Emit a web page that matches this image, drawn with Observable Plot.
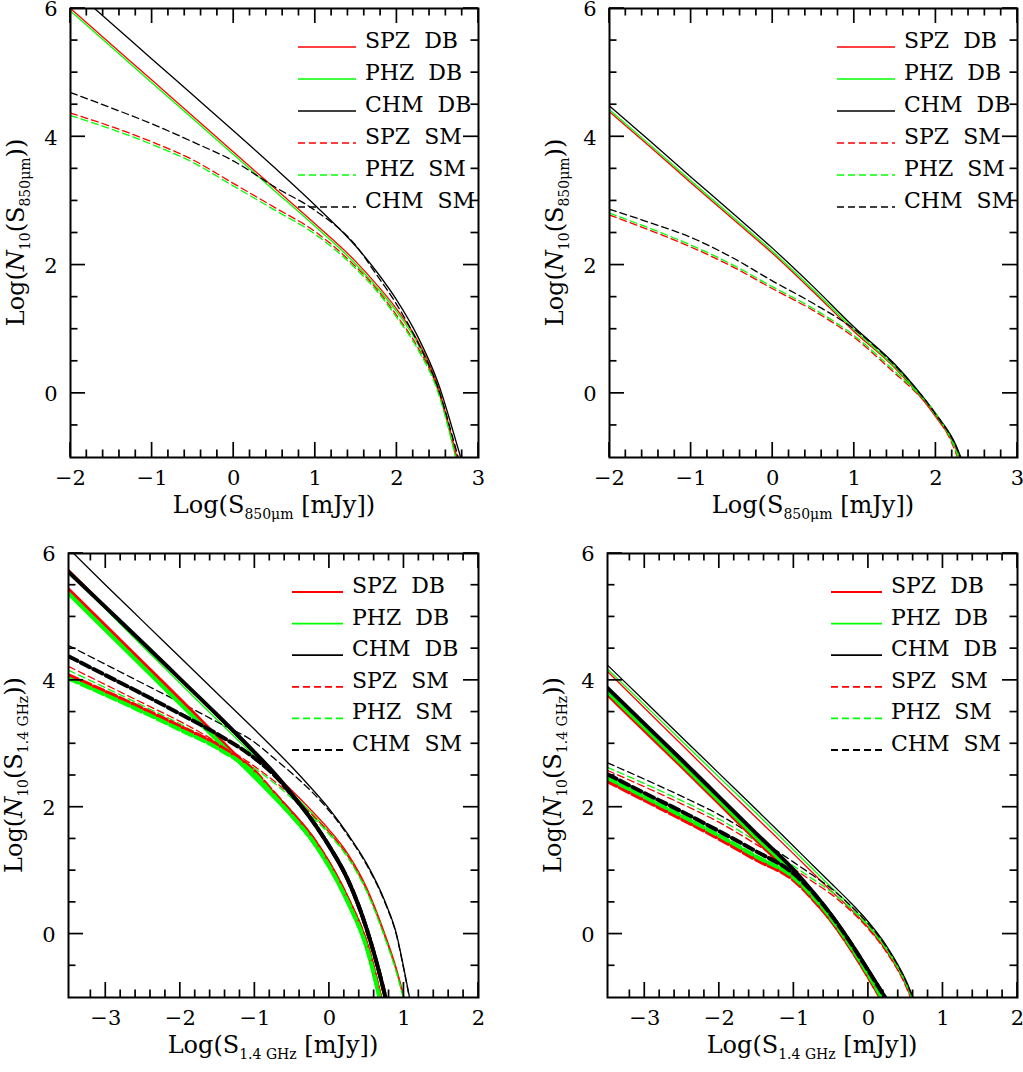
<!DOCTYPE html>
<html>
<head>
<meta charset="utf-8">
<script src="https://cdn.jsdelivr.net/npm/d3@7"></script>
<script src="https://cdn.jsdelivr.net/npm/@observablehq/plot@0.6"></script>
<style>
  body { margin: 0; background: #fff; }
  #fig { position: relative; width: 1023px; height: 1072px; font-family: "DejaVu Serif", serif; }
  .panel { position: absolute; }
</style>
</head>
<body>
<div id="fig"></div>
<script>
// ---- data: log N vs log S ----
// top left: 850um
const xsA = [-2, -1.5, -1, -0.5, 0, 0.5, 1, 1.5, 1.75, 2, 2.25, 2.5, 2.75, 2.85];
const aSpzDB = [6.00, 5.44, 4.88, 4.32, 3.76, 3.20, 2.64, 2.05, 1.70, 1.31, 0.83, 0.12, -1.08];
const aPhzDB = [5.96, 5.40, 4.84, 4.28, 3.72, 3.16, 2.60, 2.01, 1.66, 1.27, 0.79, 0.07, -1.15];
const aChmDB = [6.33, 5.77, 5.21, 4.65, 4.09, 3.52, 2.93, 2.29, 1.90, 1.45, 0.90, 0.18, -0.86, -1.30];
const aSpzSM = [4.37, 4.16, 3.92, 3.64, 3.27, 2.90, 2.52, 1.97, 1.63, 1.21, 0.73, 0.07, -1.10];
const aPhzSM = [4.33, 4.12, 3.88, 3.60, 3.23, 2.86, 2.48, 1.94, 1.60, 1.18, 0.70, 0.03, -1.15];
const aChmSM = [4.69, 4.45, 4.20, 3.92, 3.62, 3.22, 2.85, 2.30, 1.85, 1.38, 0.81, 0.10, -0.99, -1.45];

// top right: 850um
const xsB = [-2, -1.5, -1, -0.5, 0, 0.5, 1, 1.5, 1.75, 2, 2.25, 2.35];
const bSpzDB = [4.39, 3.84, 3.28, 2.73, 2.18, 1.58, 0.96, 0.39, 0.04, -0.37, -0.87, -1.20];
const bPhzDB = [4.42, 3.87, 3.31, 2.76, 2.21, 1.61, 0.99, 0.41, 0.06, -0.35, -0.85, -1.18];
const bChmDB = [4.48, 3.93, 3.37, 2.82, 2.26, 1.66, 1.03, 0.45, 0.09, -0.32, -0.82, -1.15];
const bSpzSM = [2.78, 2.54, 2.28, 1.98, 1.63, 1.29, 0.87, 0.31, 0.02, -0.34, -0.95, -1.35];
const bPhzSM = [2.81, 2.57, 2.31, 2.01, 1.66, 1.32, 0.90, 0.34, 0.04, -0.32, -0.92, -1.32];
const bChmSM = [2.87, 2.66, 2.43, 2.12, 1.75, 1.40, 1.00, 0.43, 0.08, -0.33, -0.84, -1.17];

// bottom left: 1.4 GHz, thin and thick sets
const xsC = [-3.5, -3, -2.5, -2, -1.5, -1, -0.75, -0.5, -0.25, 0, 0.25, 0.5, 0.75, 0.9, 1.0, 1.1];
const cSpzDB = [5.75, 5.17, 4.58, 4.00, 3.42, 2.84, 2.55, 2.26, 1.96, 1.64, 1.26, 0.73, -0.02, -0.55, -0.99, -1.50];
const cPhzDB = [5.70, 5.12, 4.53, 3.95, 3.37, 2.80, 2.51, 2.22, 1.92, 1.60, 1.22, 0.69, -0.06, -0.59, -1.04, -1.55];
const cChmDB = [6.08, 5.50, 4.93, 4.36, 3.79, 3.22, 2.93, 2.63, 2.31, 1.97, 1.57, 1.11, 0.50, 0.00, -0.55, -1.15];
const cSpzSM = [4.22, 3.93, 3.64, 3.35, 3.02, 2.64, 2.42, 2.17, 1.90, 1.60, 1.23, 0.70, -0.05, -0.58, -1.02, -1.52];
const cPhzSM = [4.16, 3.88, 3.60, 3.31, 2.98, 2.61, 2.39, 2.14, 1.87, 1.57, 1.20, 0.67, -0.08, -0.61, -1.05, -1.55];
const cChmSM = [4.55, 4.25, 3.95, 3.65, 3.34, 3.02, 2.78, 2.53, 2.26, 1.94, 1.55, 1.09, 0.48, -0.02, -0.57, -1.17];
const cSpzDBk = [5.43, 4.85, 4.27, 3.69, 3.10, 2.51, 2.21, 1.90, 1.55, 1.10, 0.54, -0.17, -1.35];
const cPhzDBk = [5.37, 4.79, 4.21, 3.63, 3.05, 2.47, 2.17, 1.86, 1.51, 1.06, 0.50, -0.21, -1.40];
const cChmDBk = [5.71, 5.15, 4.59, 4.02, 3.45, 2.86, 2.55, 2.20, 1.82, 1.38, 0.85, 0.08, -0.99, -1.80];
const cSpzSMk = [4.08, 3.82, 3.55, 3.27, 2.98, 2.56, 2.23, 1.90, 1.55, 1.10, 0.54, -0.17, -1.35];
const cPhzSMk = [4.03, 3.77, 3.50, 3.22, 2.93, 2.52, 2.19, 1.86, 1.51, 1.06, 0.50, -0.21, -1.40];
const cChmSMk = [4.38, 4.08, 3.78, 3.47, 3.15, 2.77, 2.52, 2.19, 1.82, 1.38, 0.85, 0.08, -0.99, -1.80];

// bottom right: 1.4 GHz
const xsD = [-3.5, -3, -2.5, -2, -1.5, -1, -0.75, -0.5, -0.25, 0, 0.25, 0.5, 0.65];
const dSpzDB = [4.14, 3.56, 2.98, 2.40, 1.83, 1.26, 0.97, 0.68, 0.41, 0.10, -0.28, -0.80, -1.25];
const dPhzDB = [4.18, 3.61, 3.04, 2.47, 1.90, 1.32, 1.03, 0.74, 0.46, 0.14, -0.24, -0.76, -1.20];
const dChmDB = [4.24, 3.67, 3.10, 2.53, 1.96, 1.38, 1.09, 0.80, 0.51, 0.19, -0.20, -0.72, -1.15];
const dSpzSM = [2.58, 2.32, 2.05, 1.76, 1.41, 1.03, 0.83, 0.63, 0.38, 0.08, -0.30, -0.82, -1.27];
const dPhzSM = [2.63, 2.37, 2.10, 1.81, 1.46, 1.07, 0.87, 0.67, 0.42, 0.12, -0.26, -0.78, -1.22];
const dChmSM = [2.70, 2.44, 2.17, 1.88, 1.52, 1.13, 0.93, 0.72, 0.46, 0.16, -0.22, -0.74, -1.17];
const dSpzDBk = [3.78, 3.21, 2.64, 2.06, 1.48, 0.91, 0.57, 0.22, -0.20, -0.67, -1.18];
const dPhzDBk = [3.82, 3.25, 2.68, 2.10, 1.52, 0.95, 0.61, 0.25, -0.17, -0.64, -1.15];
const dChmDBk = [3.88, 3.31, 2.74, 2.16, 1.58, 1.01, 0.67, 0.30, -0.12, -0.58, -1.05];
const dSpzSMk = [2.41, 2.11, 1.81, 1.50, 1.17, 0.85, 0.56, 0.22, -0.20, -0.67, -1.18];
const dPhzSMk = [2.46, 2.16, 1.86, 1.55, 1.22, 0.89, 0.60, 0.25, -0.17, -0.64, -1.15];
const dChmSMk = [2.52, 2.22, 1.93, 1.62, 1.30, 0.95, 0.66, 0.30, -0.12, -0.58, -1.05];

// axis ticks
const yMajor = [0, 2, 4, 6];
const yMinor = [-0.5, 0.5, 1, 1.5, 2.5, 3, 3.5, 4.5, 5, 5.5];
const xMajorTop = [-2, -1, 0, 1, 2, 3];
const xMajorBot = [-3, -2, -1, 0, 1, 2];

const legendNames = ["SPZ\u00a0\u00a0DB", "PHZ\u00a0\u00a0DB", "CHM\u00a0\u00a0DB", "SPZ\u00a0\u00a0SM", "PHZ\u00a0\u00a0SM", "CHM\u00a0\u00a0SM"];
const colors = ["#ff0000", "#00ff00", "#000000", "#ff0000", "#00ff00", "#000000"];
const dashed = [false, false, false, true, true, true];

const minorTicks = (lo, hi) => d3.range(Math.round(lo * 5) + 1, Math.round(hi * 5))
  .map((k) => k / 5).filter((v) => Math.abs(v - Math.round(v)) > 1e-6);
const fmt = (d) => (d < 0 ? "\u2212" + -d : String(d));

function curves(xs, sets, width, dash) {
  return sets.map((ys, i) => Plot.line(ys.map((y, j) => ({x: xs[j], y})), {
    x: "x", y: "y",
    stroke: colors[i],
    strokeWidth: width,
    strokeDasharray: dashed[i] ? dash : null,
    curve: "monotone-x",
    clip: true
  }));
}

function panel(g) {
  const chart = Plot.plot({
    width: g.width, height: g.height,
    marginLeft: g.mL, marginRight: g.mR, marginTop: g.mT, marginBottom: g.mB,
    x: {domain: g.xDomain},
    y: {domain: [-1, 6]},
    style: {fontFamily: "DejaVu Serif", fontSize: "21px", color: "black", background: "white", overflow: "visible"},
    marks: [
      ...g.lines,
      Plot.axisX(g.xMajor, {anchor: "bottom", tickSize: 0, tickPadding: 13, label: null, fontSize: 21, tickFormat: fmt}),
      Plot.axisY(yMajor, {anchor: "left", tickSize: 0, tickPadding: 13, label: null, fontSize: 21, tickFormat: fmt, dy: 1}),
      Plot.frame({stroke: "black", strokeWidth: 2})
    ]
  });

  const s = d3.select(chart);
  const fl = g.mL, fr = g.width - g.mR, ft = g.mT, fb = g.height - g.mB;
  const sx = chart.scale("x"), sy = chart.scale("y");

  // inward ticks on all four sides of the box
  const tg = s.append("g").attr("stroke", "black").attr("stroke-width", 1.7);
  const xMinor = minorTicks(g.xDomain[0], g.xDomain[1]);
  for (const [ticks, len] of [[g.xMajor, 15], [xMinor, 7.5]]) {
    for (const t of ticks) {
      const px = sx.apply(t);
      tg.append("line").attr("x1", px).attr("x2", px).attr("y1", fb).attr("y2", fb - len);
      tg.append("line").attr("x1", px).attr("x2", px).attr("y1", ft).attr("y2", ft + len);
    }
  }
  for (const [ticks, len] of [[yMajor, 15], [yMinor, 7.5]]) {
    for (const t of ticks) {
      const py = sy.apply(t);
      tg.append("line").attr("y1", py).attr("y2", py).attr("x1", fl).attr("x2", fl + len);
      tg.append("line").attr("y1", py).attr("y2", py).attr("x1", fr).attr("x2", fr - len);
    }
  }

  // x title
  const xt = s.append("text").attr("x", (fl + fr) / 2).attr("y", fb + 56)
    .attr("text-anchor", "middle").style("font-size", "24px");
  xt.append("tspan").text("Log(S");
  xt.append("tspan").attr("dy", 6).style("font-size", "14px").text(g.sub);
  xt.append("tspan").attr("dy", -6).text("\u00a0[mJy])");

  // y title
  const yt = s.append("text").attr("transform", `translate(${fl - 46},${(ft + fb) / 2}) rotate(-90)`)
    .attr("text-anchor", "middle").style("font-size", "24px");
  yt.append("tspan").text("Log(");
  yt.append("tspan").style("font-style", "italic").text("N");
  yt.append("tspan").attr("dy", 6).style("font-size", "14px").text("10");
  yt.append("tspan").attr("dy", -6).text("(S");
  yt.append("tspan").attr("dy", 6).style("font-size", "14px").text(g.sub);
  yt.append("tspan").attr("dy", -6).text("))");

  // legend
  legendNames.forEach((name, i) => {
    const y = ft + 39 + i * g.rowStep;
    s.append("line").attr("x1", fr - g.lg[0]).attr("x2", fr - g.lg[1]).attr("y1", y).attr("y2", y)
      .attr("stroke", colors[i]).attr("stroke-width", g.legW)
      .attr("stroke-dasharray", dashed[i] ? "7,4" : null);
    s.append("text").attr("x", fr - g.lg[2]).attr("y", y + 1)
      .attr("text-anchor", "start").style("font-size", "22px").text(name);
  });

  const div = document.createElement("div");
  div.className = "panel";
  div.style.left = g.left + "px";
  div.style.top = g.top + "px";
  div.appendChild(chart);
  document.getElementById("fig").appendChild(div);
}

panel({
  left: 0, top: 0, width: 500, height: 520, mL: 70, mR: 22, mT: 8, mB: 63,
  xDomain: [-2, 3], xMajor: xMajorTop, sub: "850\u03bcm", rowStep: 32, lg: [180, 122, 113], legW: 1.3,
  lines: curves(xsA, [aSpzDB, aPhzDB, aChmDB, aSpzSM, aPhzSM, aChmSM], 1.3, "7,4")
});
panel({
  left: 520, top: 0, width: 503, height: 520, mL: 89, mR: 6, mT: 8, mB: 63,
  xDomain: [-2, 3], xMajor: xMajorTop, sub: "850\u03bcm", rowStep: 32, lg: [180, 122, 113], legW: 1.3,
  lines: curves(xsB, [bSpzDB, bPhzDB, bChmDB, bSpzSM, bPhzSM, bChmSM], 1.3, "7,4")
});
panel({
  left: 0, top: 540, width: 500, height: 532, mL: 68, mR: 22, mT: 13, mB: 75,
  xDomain: [-3.5, 2], xMajor: xMajorBot, sub: "1.4 GHz", rowStep: 31.6, lg: [186, 135, 126], legW: 1.8,
  lines: [
    ...curves(xsC, [cSpzDB, cPhzDB, cChmDB, cSpzSM, cPhzSM, cChmSM], 1.3, "7,4"),
    ...curves(xsC, [cSpzDBk, cPhzDBk, cChmDBk, cSpzSMk, cPhzSMk, cChmSMk], 4, "10,4")
  ]
});
panel({
  left: 520, top: 540, width: 503, height: 532, mL: 87, mR: 6, mT: 13, mB: 75,
  xDomain: [-3.5, 2], xMajor: xMajorBot, sub: "1.4 GHz", rowStep: 31.6, lg: [186, 135, 126], legW: 1.8,
  lines: [
    ...curves(xsD, [dSpzDB, dPhzDB, dChmDB, dSpzSM, dPhzSM, dChmSM], 1.3, "7,4"),
    ...curves(xsD, [dSpzDBk, dPhzDBk, dChmDBk, dSpzSMk, dPhzSMk, dChmSMk], 4, "10,4")
  ]
});
</script>
</body>
</html>
